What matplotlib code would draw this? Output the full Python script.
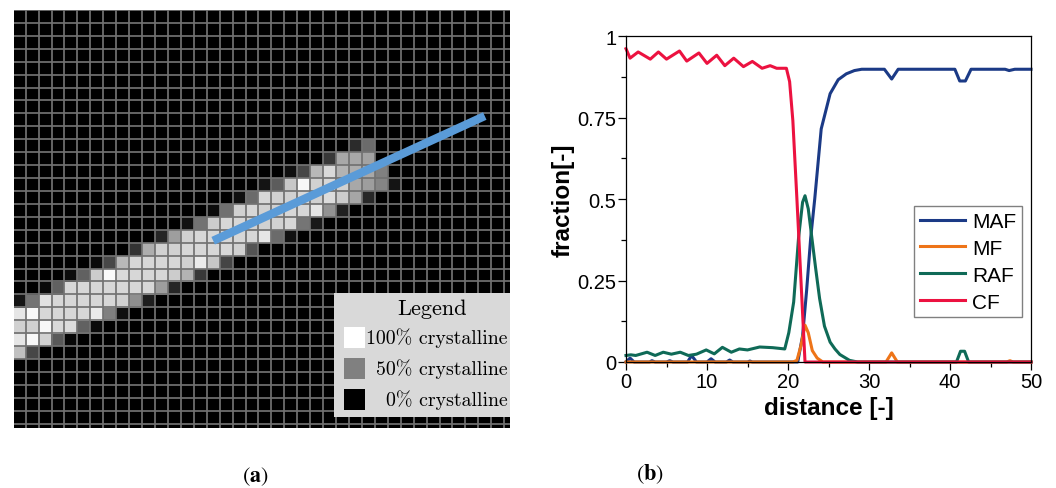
"""Two-panel figure: crystallinity grid (a) and phase fractions along a line (b)."""

import matplotlib

matplotlib.use("Agg")
import matplotlib.pyplot as plt
import numpy as np
from matplotlib.patches import Rectangle
from matplotlib.ticker import FuncFormatter, MultipleLocator

plt.rcParams["font.family"] = ["Liberation Sans", "DejaVu Sans"]
plt.rcParams["mathtext.fontset"] = "stix"

# --- panel (a): crystallinity per cell, rows of the band only (rest is 0) ---
GRID_ROWS = 33
GRID_COLS = 39
BAND_ROWS = [10, 11, 12, 13, 14, 15, 16, 17, 18, 19, 20, 21, 22, 23, 24, 25, 26]
BAND_FIRST_COL = [26, 24, 21, 19, 17, 15, 13, 11, 9, 6, 4, 2, 0, 0, 0, 0, 0]
BAND_LEVELS = [
    [0.17, 0.42],
    [0.22, 0.66, 0.66, 0.64],
    [0.06, 0.28, 0.72, 0.85, 0.70, 0.68, 0.66, 0.50],
    [0.08, 0.36, 0.78, 0.97, 0.82, 0.84, 0.82, 0.66, 0.62, 0.52, 0.08],
    [0.06, 0.42, 0.84, 0.82, 0.82, 0.84, 0.82, 0.86, 0.80, 0.65, 0.16],
    [0.05, 0.44, 0.82, 0.84, 0.82, 0.82, 0.84, 0.84, 0.90, 0.58, 0.13],
    [0.07, 0.45, 0.80, 0.84, 0.84, 0.82, 0.82, 0.82, 0.84, 0.46, 0.10],
    [0.15, 0.62, 0.82, 0.84, 0.84, 0.84, 0.84, 0.84, 0.90, 0.42, 0.07],
    [0.20, 0.68, 0.82, 0.82, 0.84, 0.84, 0.84, 0.84, 0.82, 0.33],
    [0.04, 0.28, 0.72, 0.84, 0.84, 0.84, 0.84, 0.82, 0.92, 0.78, 0.27],
    [0.05, 0.38, 0.80, 0.98, 0.85, 0.84, 0.84, 0.84, 0.80, 0.70, 0.22],
    [0.04, 0.38, 0.84, 0.84, 0.84, 0.84, 0.84, 0.84, 0.84, 0.62, 0.15],
    [0.08, 0.45, 0.88, 0.84, 0.84, 0.84, 0.84, 0.84, 0.82, 0.56, 0.12],
    [0.90, 0.97, 0.84, 0.84, 0.84, 0.84, 0.92, 0.50, 0.06],
    [0.82, 0.82, 0.97, 0.85, 0.86, 0.38, 0.04],
    [0.90, 0.97, 0.82, 0.35, 0.03],
    [0.75, 0.28],
]
# sampling line drawn over the grid (cell units)
LINE_X = [15.5, 36.5]
LINE_Y = [17.85, 8.2]

LEGEND_TITLE = "Legend"
LEGEND_LABELS = ["100% crystalline", "50% crystalline", "0% crystalline"]
LEGEND_LEVELS = [1.0, 0.5, 0.0]

# --- panel (b): phase fractions along the line ---
MAF_X = [0, 0.5, 1.0, 2.9, 3.2, 3.6, 5.0, 5.4, 5.8, 7.6, 8.1, 8.7, 10.0, 10.5, 11.0,
         12.4, 12.8, 13.2, 15.0, 15.3, 15.6, 21.2, 21.8, 22.3, 22.8, 23.3, 24.1, 25.2,
         26.2, 27.2, 28.2, 29.1, 31.9, 32.8, 33.6, 40.6, 41.2, 41.9, 42.6, 46.8, 47.3,
         48.0, 50]
MAF_Y = [0, 0.012, 0, 0, 0.004, 0, 0, 0.004, 0, 0, 0.02, 0, 0, 0.01, 0,
         0, 0.006, 0, 0, 0.003, 0, 0, 0.08, 0.22, 0.38, 0.5, 0.715, 0.823,
         0.866, 0.884, 0.894, 0.898, 0.898, 0.868, 0.898, 0.898, 0.862, 0.862, 0.898,
         0.898, 0.894, 0.898, 0.898]

MF_X = [0, 20.6, 21.1, 21.6, 22.1, 22.5, 23.0, 23.6, 24.3, 32.1, 32.8, 33.5, 47.0, 47.4,
        47.8, 50]
MF_Y = [0, 0, 0.005, 0.05, 0.113, 0.09, 0.035, 0.012, 0, 0, 0.028, 0, 0, 0.004,
        0, 0]

RAF_X = [0, 0.6, 1.2, 2.6, 3.6, 4.6, 5.6, 6.7, 7.7, 8.7, 9.9, 10.9, 11.9, 13.0, 14.0,
         15.0, 16.5, 18.1, 19.6, 20.1, 20.7, 21.3, 21.8, 22.1, 22.5, 22.9, 23.4, 23.9,
         24.5, 25.2, 25.8, 26.4, 27.6, 28.6, 40.8, 41.3, 41.8, 42.3, 50]
RAF_Y = [0.02, 0.022, 0.02, 0.03, 0.02, 0.03, 0.024, 0.03, 0.02, 0.024, 0.037, 0.025,
         0.045, 0.03, 0.04, 0.037, 0.046, 0.044, 0.04, 0.09, 0.184, 0.38, 0.49, 0.51,
         0.47, 0.39, 0.29, 0.195, 0.11, 0.061, 0.04, 0.023, 0.005, 0, 0, 0.033,
         0.033, 0, 0]

CF_X = [0, 0.5, 1.5, 3.0, 4.0, 5.0, 6.6, 7.5, 9.0, 10.0, 11.2, 12.2, 13.3, 14.5, 15.6,
        16.8, 17.8, 18.6, 19.8, 20.2, 20.6, 21.1, 21.6, 22.1, 50]
CF_Y = [0.961, 0.932, 0.951, 0.929, 0.951, 0.929, 0.954, 0.923, 0.948, 0.916, 0.941,
        0.909, 0.932, 0.906, 0.922, 0.901, 0.909, 0.901, 0.901, 0.86, 0.74, 0.5, 0.25,
        0.0, 0.0]

SERIES = [
    ("MAF", MAF_X, MAF_Y, "#1b3a86"),
    ("MF", MF_X, MF_Y, "#ee7418"),
    ("RAF", RAF_X, RAF_Y, "#0f6a57"),
    ("CF", CF_X, CF_Y, "#ec1240"),
]

W, H = 1056, 489


def fig_rect(x0, y0, x1, y1):
    """Pixel box (top-left origin) to figure fraction rect."""
    return [x0 / W, 1 - y1 / H, (x1 - x0) / W, (y1 - y0) / H]


def build_grid():
    grid = np.zeros((GRID_ROWS, GRID_COLS))
    for row, first, levels in zip(BAND_ROWS, BAND_FIRST_COL, BAND_LEVELS):
        grid[row, first:first + len(levels)] = levels
    return grid


def draw_grid_panel(fig):
    ax = fig.add_axes(fig_rect(14, 11, 510, 428.5))
    ax.imshow(build_grid(), cmap="gray", vmin=0, vmax=1, interpolation="nearest",
              extent=(0, GRID_COLS, GRID_ROWS, 0), aspect="auto", zorder=1)
    for k in range(GRID_COLS + 1):
        ax.axvline(k, color="#727272", lw=1.25, zorder=2)
    for k in range(GRID_ROWS + 1):
        ax.axhline(k, color="#727272", lw=1.25, zorder=2)
    ax.plot(LINE_X, LINE_Y, color="#5a9bd8", lw=6.0, solid_capstyle="butt", zorder=3)

    ax.add_patch(Rectangle((24.85, 21.9), 20, 9.58, facecolor="#d9d9d9",
                           edgecolor="none", zorder=4))
    serif = ["cmr10", "DejaVu Serif"]
    ax.text(32.45, 23.1, LEGEND_TITLE, ha="center", va="center", fontsize=16,
            family=serif, zorder=5)
    for i, (label, level) in enumerate(zip(LEGEND_LABELS, LEGEND_LEVELS)):
        y_top = 24.53 + i * 2.4
        ax.add_patch(Rectangle((25.63, y_top), 1.62, 1.62, facecolor=str(level),
                               edgecolor="none", zorder=5))
        ax.text(38.25, y_top + 0.8, label, ha="right", va="center", fontsize=14.3,
                family=serif, zorder=5)

    ax.set_xlim(0.1, 38.45)
    ax.set_ylim(32.3, 0.0)
    ax.axis("off")


def draw_fraction_panel(fig):
    ax = fig.add_axes(fig_rect(626, 37, 1031, 363))
    for name, xs, ys, color in SERIES:
        ax.plot(xs, ys, color=color, lw=2.2, label=name, clip_on=False,
                solid_joinstyle="round")

    ax.set_xlim(0, 50)
    ax.set_ylim(0, 1)
    ax.xaxis.set_major_locator(MultipleLocator(10))
    ax.xaxis.set_minor_locator(MultipleLocator(5))
    ax.yaxis.set_major_locator(MultipleLocator(0.25))
    ax.yaxis.set_minor_locator(MultipleLocator(0.125))
    ax.yaxis.set_major_formatter(FuncFormatter(lambda v, _: f"{v:g}"))
    ax.tick_params(which="both", direction="out", top=False, right=False,
                   labelsize=14.5, width=0.9, pad=1)
    ax.tick_params(which="major", length=6)
    ax.tick_params(which="minor", length=3.5)
    for spine in ax.spines.values():
        spine.set_linewidth(0.9)

    ax.set_xlabel("distance [-]", fontsize=17.5, fontweight="bold", labelpad=4)
    ax.set_ylabel("fraction[-]", fontsize=17.5, fontweight="bold", labelpad=2)

    leg = ax.legend(loc="upper left", bbox_to_anchor=(914 / W, 1 - 207 / H),
                    bbox_transform=fig.transFigure, borderaxespad=0, fontsize=15,
                    frameon=True, fancybox=False, framealpha=1, edgecolor="#808080",
                    handlelength=2.15, handletextpad=0.35, labelspacing=0.38,
                    borderpad=0.28)
    leg.get_frame().set_linewidth(1.0)


def main():
    fig = plt.figure(figsize=(W / 100, H / 100), dpi=100)
    draw_grid_panel(fig)
    draw_fraction_panel(fig)

    fig.text(255 / W, 1 - 477 / H, r"($\mathbf{a}$)", ha="center", va="center",
             fontsize=16, family="STIXGeneral")
    fig.text(650 / W, 1 - 474 / H, r"($\mathbf{b}$)", ha="center", va="center",
             fontsize=16, family="STIXGeneral")

    fig.savefig("out.png", dpi=100)
    plt.close(fig)


if __name__ == "__main__":
    main()
